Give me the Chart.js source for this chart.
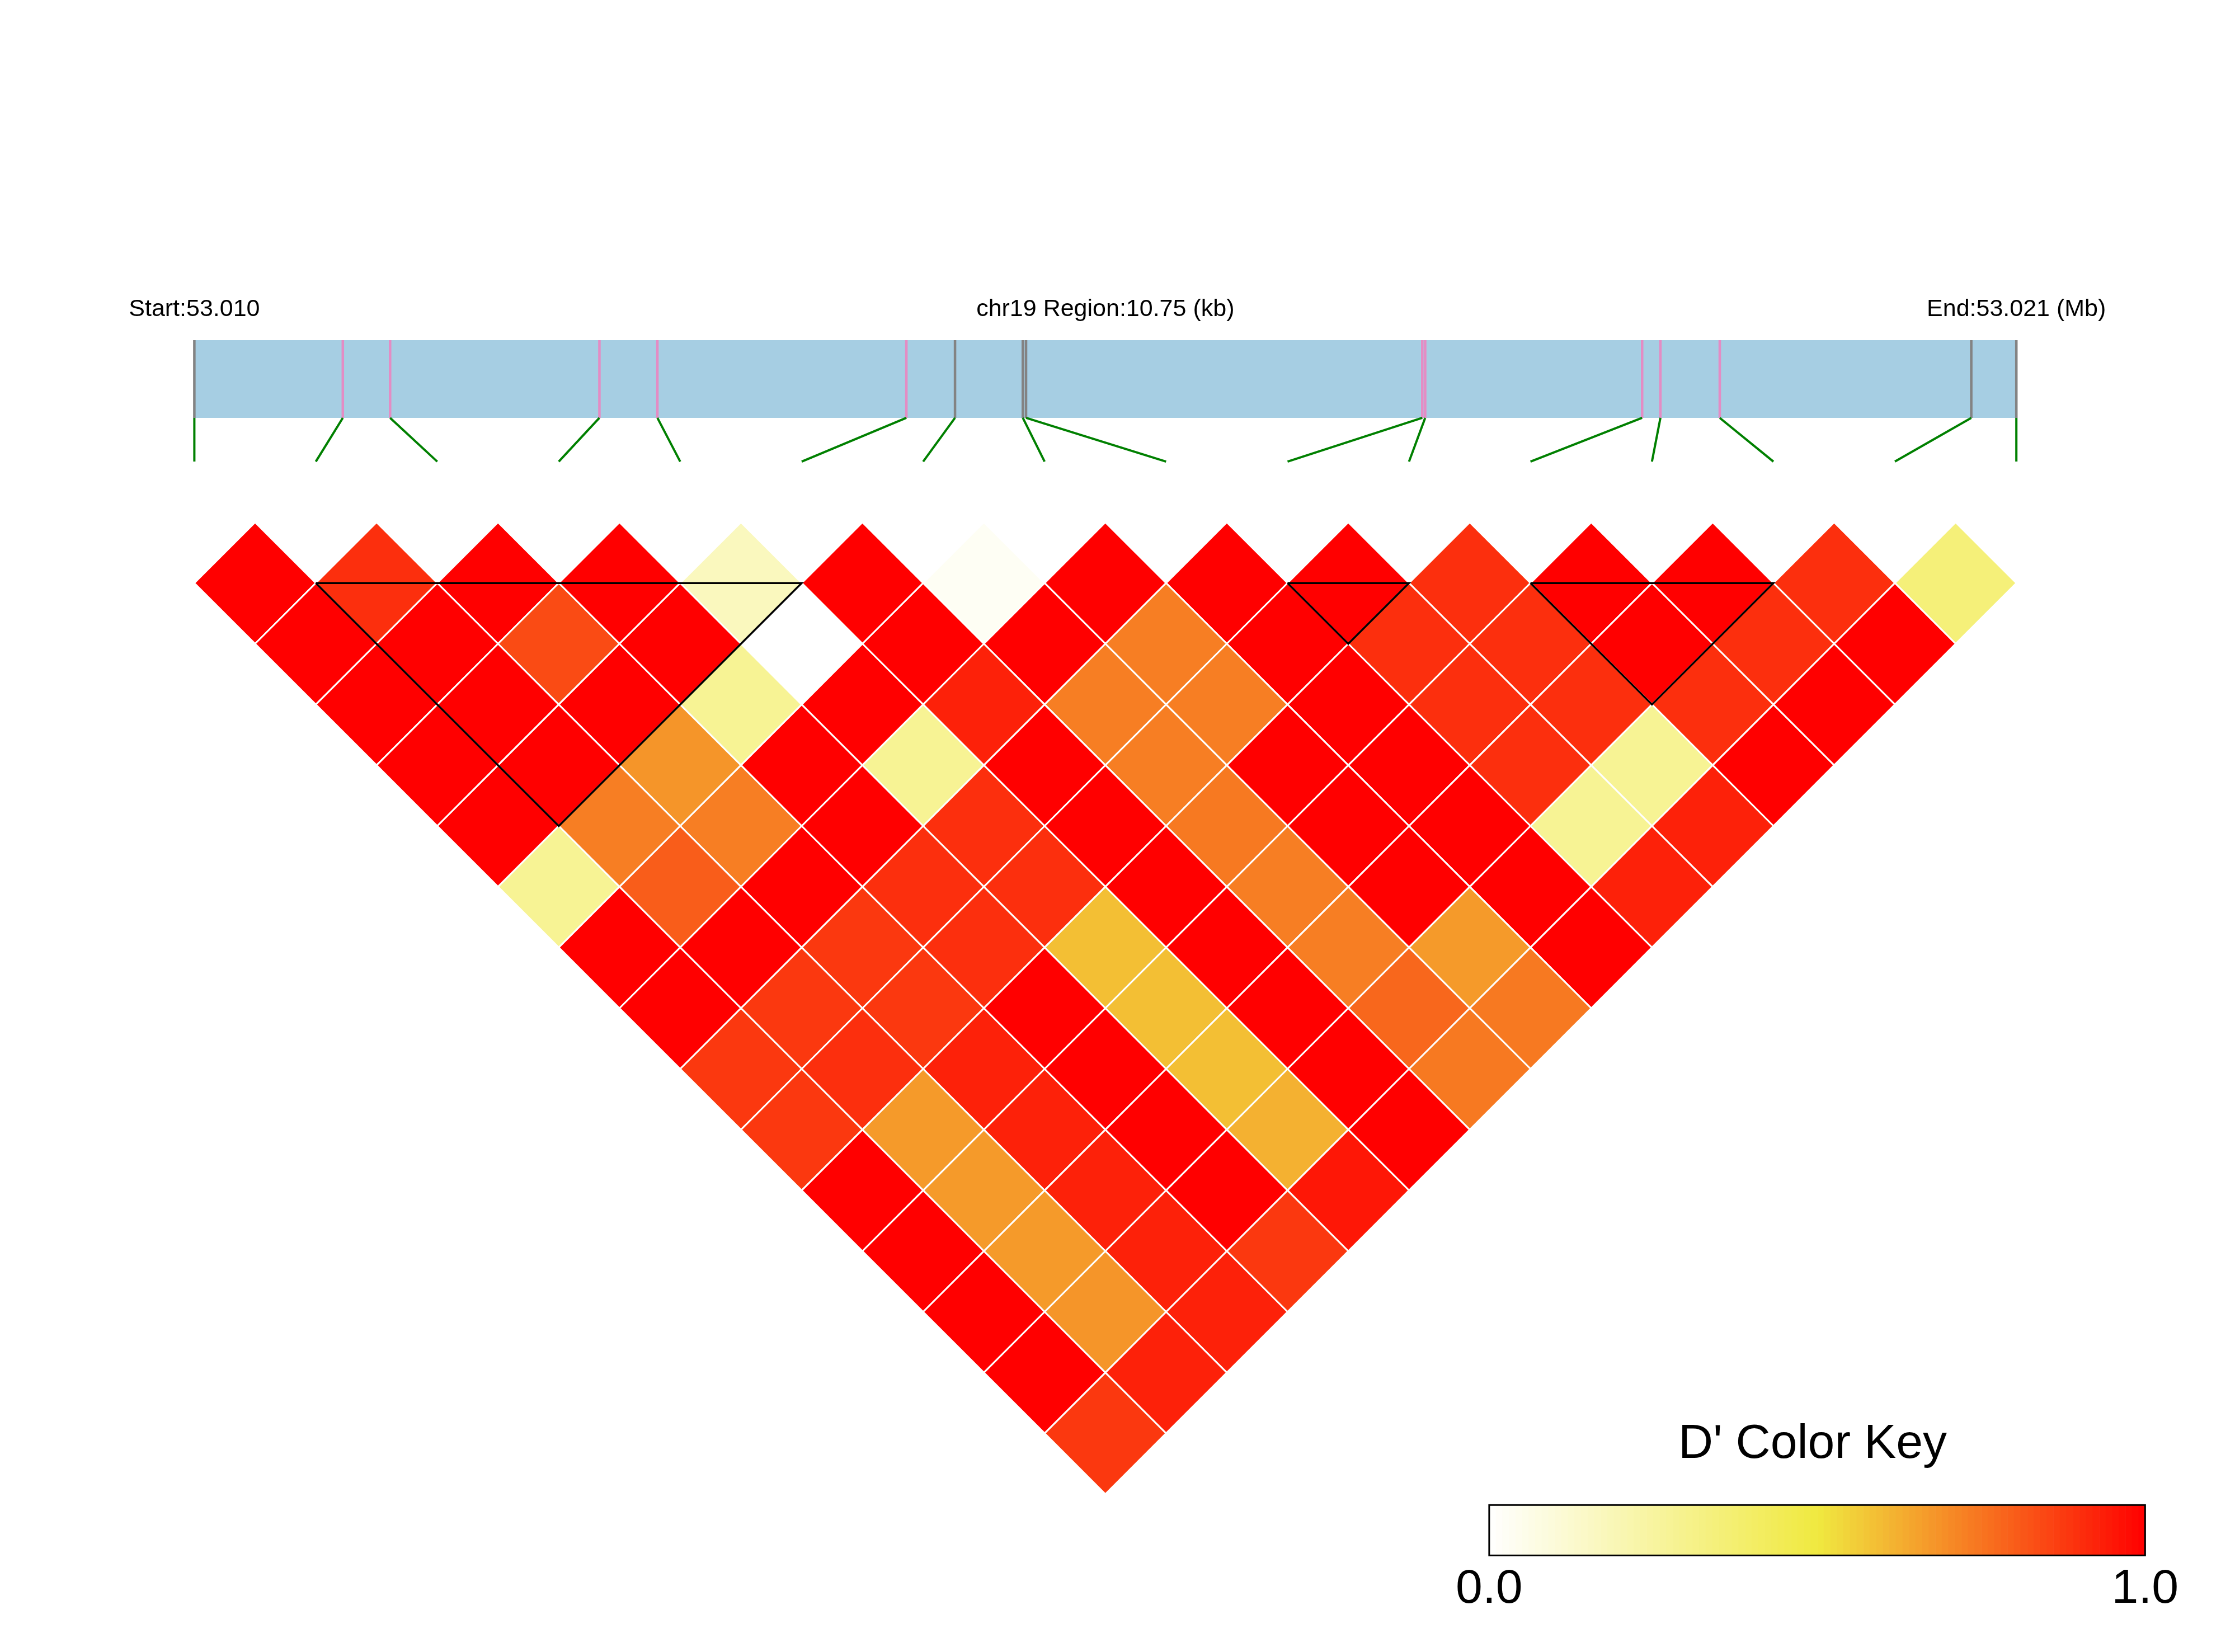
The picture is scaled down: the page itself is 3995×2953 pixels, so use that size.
<!DOCTYPE html>
<html lang="en">
<head>
<meta charset="UTF-8">
<title>LD heatmap chr19</title>
<script src="https://cdn.jsdelivr.net/npm/chart.js"></script>
<style>
  html, body { margin: 0; padding: 0; background: #fff; }
  #ld { display: block; }
</style>
</head>
<body>
<canvas id="ld" width="3995" height="2953"></canvas>
<script>
// SNP positions (bp)
const snpPos = [53010000, 53010876, 53011155, 53012390, 53012732, 53014201, 53014488, 53014888,
  53014907, 53017245, 53017262, 53018542, 53018650, 53019000, 53020484, 53020750];

// LD blocks: first and last SNP index
const blockStart = [1, 9, 11];
const blockEnd = [5, 10, 13];

// D' per SNP pair, one row per distance (row 1 = neighbouring SNPs)
const dRow1 = [1.0, 0.9, 1.0, 1.0, 0.17, 1.0, 0.03, 1.0, 1.0, 1.0, 0.9, 1.0, 1.0, 0.9, 0.35];
const dRow2 = [1.0, 1.0, 0.84, 1.0, 0.0, 1.0, 1.0, 0.73, 1.0, 0.9, 0.9, 1.0, 0.9, 1.0];
const dRow3 = [1.0, 1.0, 1.0, 0.28, 1.0, 0.93, 0.73, 0.73, 1.0, 0.9, 0.9, 0.9, 1.0];
const dRow4 = [1.0, 1.0, 0.68, 1.0, 0.28, 1.0, 0.73, 1.0, 1.0, 0.9, 0.28, 1.0];
const dRow5 = [1.0, 0.73, 0.73, 1.0, 0.9, 1.0, 0.74, 1.0, 1.0, 0.28, 0.93];
const dRow6 = [0.28, 0.8, 1.0, 0.9, 0.9, 1.0, 0.73, 1.0, 1.0, 0.93];
const dRow7 = [1.0, 1.0, 0.88, 0.9, 0.59, 1.0, 0.73, 0.67, 1.0];
const dRow8 = [1.0, 0.88, 0.88, 1.0, 0.59, 1.0, 0.78, 0.74];
const dRow9 = [0.88, 0.9, 0.93, 1.0, 0.59, 1.0, 0.74];
const dRow10 = [0.88, 0.67, 0.93, 1.0, 0.62, 1.0];
const dRow11 = [1.0, 0.67, 0.93, 1.0, 0.95];
const dRow12 = [1.0, 0.67, 0.93, 0.88];
const dRow13 = [1.0, 0.68, 0.93];
const dRow14 = [1.0, 0.93];
const dRow15 = [0.88];
const dRows = [dRow1, dRow2, dRow3, dRow4, dRow5, dRow6, dRow7, dRow8, dRow9, dRow10,
  dRow11, dRow12, dRow13, dRow14, dRow15];

// header texts
const startLabel = 'Start:53.010';
const regionLabel = 'chr19 Region:10.75 (kb)';
const endLabel = 'End:53.021 (Mb)';
const keyTitle = "D' Color Key";
const keyTicks = ['0.0', '1.0'];

// white -> yellow -> red
function dColor(v) {
  const lo = [255, 255, 255], mid = [240, 233, 64], hi = [255, 0, 0];
  let a, b, t;
  if (v <= 0.5) { a = lo; b = mid; t = v / 0.5; } else { a = mid; b = hi; t = (v - 0.5) / 0.5; }
  return 'rgb(' + a.map((c, n) => Math.round(c + (b[n] - c) * t)).join(',') + ')';
}

const nSnp = snpPos.length;
const last = nSnp - 1;
const posX = p => last * (p - snpPos[0]) / (snpPos[last] - snpPos[0]);
const inBlock = i => blockStart.some((s, b) => i >= s && i <= blockEnd[b]);

// vertical position of the gene bar / connector ends (y units, 1 unit = half a SNP step)
const barTop = -3, barBottom = -1.72, linkEnd = -1;

let cells = [];
dRows.forEach((row, r) => {
  row.forEach((v, i) => {
    const j = i + r + 1;
    cells.push({ x: (i + j) / 2, y: j - i, v: v });
  });
});

let datasets = [];

// block outlines
blockStart.forEach((s, b) => {
  const e = blockEnd[b];
  datasets.push({
    data: [{ x: s, y: 1 }, { x: e, y: 1 }, { x: (s + e) / 2, y: e - s + 1 }, { x: s, y: 1 }],
    showLine: true, borderColor: '#000', borderWidth: 3.5, pointRadius: 0,
    borderJoinStyle: 'miter', fill: false, order: 0
  });
});

// the diamonds
const halfStep = c => c.chart.scales.x.getPixelForValue(0.5) - c.chart.scales.x.getPixelForValue(0);
datasets.push({
  data: cells,
  pointStyle: 'rectRot',
  pointRadius: halfStep,
  pointHoverRadius: halfStep,
  backgroundColor: c => dColor(c.raw ? c.raw.v : 1),
  borderColor: '#fff',
  borderWidth: 3,
  order: 2
});

// SNP ticks in the bar and the green links to the map
snpPos.forEach((p, i) => {
  const tick = inBlock(i) ? '#E48CC4' : '#838383';
  datasets.push({
    data: [{ x: posX(p), y: barTop }, { x: posX(p), y: barBottom }, { x: i, y: linkEnd }],
    showLine: true, pointRadius: 0, borderWidth: 4, fill: false,
    borderColor: '#008000',
    segment: {
      borderColor: s => s.p0DataIndex === 0 ? tick : '#008000',
      borderWidth: s => s.p0DataIndex === 0 ? 4.5 : 4
    },
    order: 3
  });
});

// gene bar
datasets.push({
  data: [{ x: 0, y: barTop }, { x: last, y: barTop }],
  showLine: true, pointRadius: 0, borderWidth: 0, backgroundColor: '#A6CEE3',
  fill: '+1', order: 4
});
datasets.push({
  data: [{ x: 0, y: barBottom }, { x: last, y: barBottom }],
  showLine: true, pointRadius: 0, borderWidth: 0, fill: false, order: 4
});

const textPlugin = {
  id: 'texts',
  afterDraw(chart) {
    const { ctx, scales: { x, y } } = chart;
    ctx.save();
    ctx.fillStyle = '#000';
    ctx.textAlign = 'center';
    ctx.textBaseline = 'alphabetic';
    ctx.font = '43px "Liberation Sans", Arial, sans-serif';
    ctx.fillText(startLabel, x.getPixelForValue(0), y.getPixelForValue(-3.4));
    ctx.fillText(regionLabel, x.getPixelForValue(last / 2), y.getPixelForValue(-3.4));
    ctx.fillText(endLabel, x.getPixelForValue(last), y.getPixelForValue(-3.4));

    // colour key
    const kx0 = x.getPixelForValue(10.66), kx1 = x.getPixelForValue(16.06);
    const ky0 = y.getPixelForValue(16.18), ky1 = y.getPixelForValue(17.01);
    const steps = 100;
    const w = (kx1 - kx0) / steps;
    for (let s = 0; s < steps; s++) {
      ctx.fillStyle = dColor((s + 0.5) / steps);
      ctx.fillRect(kx0 + s * w, ky0, w + 0.6, ky1 - ky0);
    }
    ctx.strokeStyle = '#000';
    ctx.lineWidth = 3;
    ctx.strokeRect(kx0, ky0, kx1 - kx0, ky1 - ky0);

    ctx.fillStyle = '#000';
    ctx.font = '86px "Liberation Sans", Arial, sans-serif';
    ctx.fillText(keyTitle, (kx0 + kx1) / 2 - 8, y.getPixelForValue(15.4));
    ctx.fillText(keyTicks[0], kx0, y.getPixelForValue(17.79));
    ctx.fillText(keyTicks[1], kx1, y.getPixelForValue(17.79));
    ctx.restore();
  }
};

new Chart(document.getElementById('ld'), {
  type: 'scatter',
  data: { datasets: datasets },
  options: {
    responsive: false,
    animation: false,
    events: [],
    devicePixelRatio: 1,
    layout: { padding: 0 },
    plugins: { legend: { display: false }, tooltip: { enabled: false } },
    scales: {
      x: { type: 'linear', min: -1.6, max: 16.8, display: false },
      y: { type: 'linear', reverse: true, min: -8.6, max: 18.6, display: false }
    }
  },
  plugins: [textPlugin]
});
</script>
</body>
</html>
